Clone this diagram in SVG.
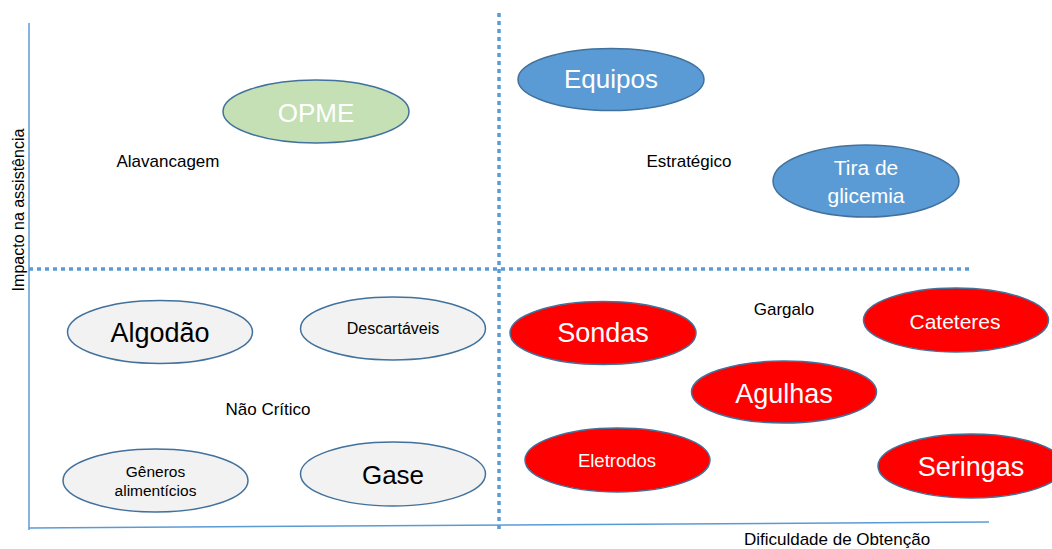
<svg xmlns="http://www.w3.org/2000/svg" width="1052" height="549" viewBox="0 0 1052 549">
<style>
text{font-family:"Liberation Sans",Arial,sans-serif;text-anchor:middle}
.node{stroke:#41719C;stroke-width:1.5}
.gray{fill:#F2F2F2}
.red{fill:#FF0000}
.blue{fill:#5B9BD5}
.green{fill:#C5E0B4}
.wt{fill:#FFFFFF}
.bk{fill:#000000}
.lbl{font-size:17px;fill:#000000}
.axis{stroke:#5B9BD5;stroke-width:1.5;fill:none}
.div{stroke:#5B9BD5;stroke-width:3.5;stroke-dasharray:4 4;fill:none}
</style>
<rect width="1052" height="549" fill="#FFFFFF"/>
<g id="connectors">
<line class="axis" x1="29" y1="23" x2="29" y2="530"/>
<line class="axis" x1="29" y1="528" x2="989" y2="522"/>
<line class="div" x1="29" y1="269" x2="972" y2="269"/>
<line class="div" x1="499" y1="13" x2="499" y2="530"/>
</g>
<g id="labels">
<text class="lbl" x="168" y="167">Alavancagem</text>
<text class="lbl" x="689" y="167">Estratégico</text>
<text class="lbl" x="268" y="415">Não Crítico</text>
<text class="lbl" x="784" y="315">Gargalo</text>
<text class="lbl" x="837" y="545">Dificuldade de Obtenção</text>
<text class="lbl" x="0" y="0" font-size="16" transform="translate(24 210) rotate(-90)" style="font-size:16px">Impacto na assistência</text>
</g>
<g id="node-opme">
<ellipse class="node green" cx="316" cy="111.5" rx="93" ry="31.5"/>
<text class="wt" x="316" y="122" font-size="26">OPME</text>
</g>
<g id="node-equipos">
<ellipse class="node blue" cx="611" cy="79.5" rx="93" ry="31"/>
<text class="wt" x="611" y="88" font-size="26">Equipos</text>
</g>
<g id="node-tira">
<ellipse class="node blue" cx="866" cy="181" rx="93" ry="36"/>
<text class="wt" x="866" y="175" font-size="21">Tira de</text>
<text class="wt" x="866" y="203" font-size="21">glicemia</text>
</g>
<g id="node-algodao">
<ellipse class="node gray" cx="160" cy="332" rx="92.5" ry="31.5"/>
<text class="bk" x="160" y="342" font-size="27">Algodão</text>
</g>
<g id="node-descartaveis">
<ellipse class="node gray" cx="393" cy="328.5" rx="92.5" ry="31.5"/>
<text class="bk" x="393" y="334" font-size="16">Descartáveis</text>
</g>
<g id="node-generos">
<ellipse class="node gray" cx="155.5" cy="480.5" rx="92.5" ry="31.5"/>
<text class="bk" x="155.5" y="477" font-size="15.5">Gêneros</text>
<text class="bk" x="155.5" y="496" font-size="15.5">alimentícios</text>
</g>
<g id="node-gase">
<ellipse class="node gray" cx="393" cy="474" rx="92.5" ry="32"/>
<text class="bk" x="393" y="484" font-size="26">Gase</text>
</g>
<g id="node-sondas">
<ellipse class="node red" cx="603" cy="333" rx="93" ry="31.5"/>
<text class="wt" x="603" y="342" font-size="27">Sondas</text>
</g>
<g id="node-cateteres">
<ellipse class="node red" cx="956" cy="320" rx="92.5" ry="32"/>
<text class="wt" x="955" y="329" font-size="21">Cateteres</text>
</g>
<g id="node-agulhas">
<ellipse class="node red" cx="784" cy="392" rx="92.5" ry="31"/>
<text class="wt" x="784" y="403" font-size="27">Agulhas</text>
</g>
<g id="node-eletrodos">
<ellipse class="node red" cx="617.5" cy="460" rx="92.5" ry="32"/>
<text class="wt" x="617" y="467" font-size="18.5">Eletrodos</text>
</g>
<g id="node-seringas">
<ellipse class="node red" cx="971" cy="466" rx="93" ry="32"/>
<text class="wt" x="971" y="476" font-size="27">Seringas</text>
</g>
</svg>
